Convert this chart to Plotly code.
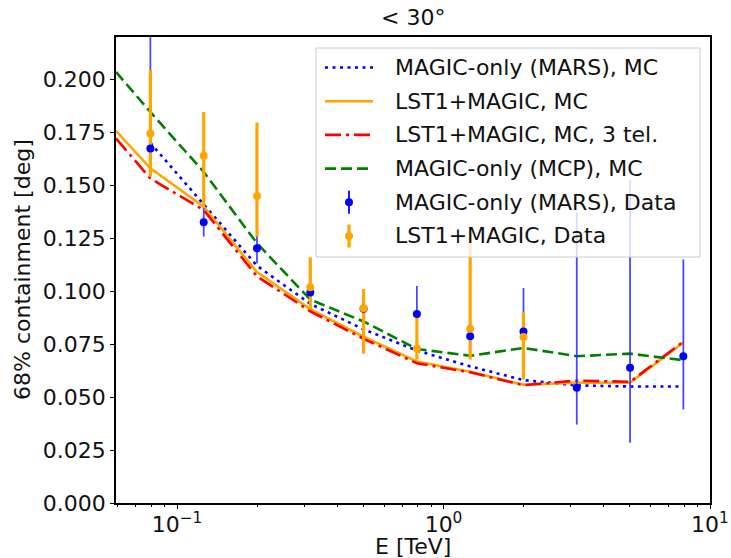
import math
import plotly.graph_objects as go

# ---------------------------------------------------------------- data
# Energy bin centres [TeV]
energy = [0.0794, 0.1259, 0.1995, 0.3162, 0.5012, 0.7943, 1.2589, 1.9953, 3.1623, 5.0119, 7.9433]
# MC curves continue to the lower edge of the energy axis
energy_mc = [0.059] + energy

# 68% containment radius from simulations [deg]
mars_mc = [None, 0.170, 0.141, 0.112, 0.094, 0.082, 0.072, 0.0645, 0.058, 0.0555, 0.055, 0.055]
lst1_magic_mc = [0.1757, 0.158, 0.1399, 0.109, 0.0915, 0.0785, 0.0668, 0.062, 0.0558, 0.0568, 0.0568, 0.0758]
lst1_magic_mc_3tel = [0.1721, 0.1532, 0.1383, 0.107, 0.0905, 0.0775, 0.066, 0.0617, 0.0556, 0.0578, 0.0572, 0.0762]
mcp_mc = [0.2035, 0.1846, 0.1563, 0.1226, 0.096, 0.0857, 0.0727, 0.0695, 0.0732, 0.0693, 0.0705, 0.0674]

# 68% containment radius measured on data [deg]
mars_data = [0.1674, 0.1325, 0.1203, 0.0994, 0.0917, 0.0892, 0.0787, 0.081, 0.0544, 0.0638, 0.0693]
mars_err_up = [0.08, 0.0067, 0.0063, 0.006, 0.006, 0.0133, 0.01, 0.0205, 0.0825, 0.0887, 0.0457]
mars_err_down = [0.012, 0.0067, 0.0071, 0.006, 0.006, 0.0133, 0.01, 0.0205, 0.0174, 0.0353, 0.0251]

lst1_energy = energy[:8]
lst1_data = [0.1745, 0.1639, 0.1449, 0.1019, 0.092, 0.0729, 0.0823, 0.0784]
lst1_err_up = [0.0301, 0.0207, 0.0347, 0.0141, 0.009, 0.0151, 0.0447, 0.0116]
lst1_err_down = [0.0205, 0.024, 0.0191, 0.0107, 0.0215, 0.0052, 0.0146, 0.0201]

labels = [
    "MAGIC-only (MARS), MC",
    "LST1+MAGIC, MC",
    "LST1+MAGIC, MC, 3 tel.",
    "MAGIC-only (MCP), MC",
    "MAGIC-only (MARS), Data",
    "LST1+MAGIC, Data",
]

# ---------------------------------------------------------------- styling
FONT = "DejaVu Sans"
FS = 22
TXT = "#111111"
BLUE, ORANGE, RED, GREEN = "#0000ff", "#ffa500", "#ff0000", "#008000"

W, H = 731, 558
ML, MR, MT, MB = 116, 21, 37, 55
PW, PH = W - ML - MR, H - MT - MB


def paper_x(px):
    return (px - ML) / PW


def paper_y(py):
    return (H - MB - py) / PH


fig = go.Figure()

line_styles = [
    (mars_mc, BLUE, "3px,4.5px", 2.6),
    (lst1_magic_mc, ORANGE, "solid", 2.6),
    (lst1_magic_mc_3tel, RED, "16px,5px,3px,5px", 2.6),
    (mcp_mc, GREEN, "11px,5px", 2.6),
]
for (vals, col, dash, lw), name in zip(line_styles, labels[:4]):
    fig.add_trace(go.Scatter(
        x=energy_mc, y=vals, mode="lines", name=name, showlegend=False,
        line=dict(color=col, width=lw, dash=dash), connectgaps=False,
    ))

# error bars first, markers on top of all bars
fig.add_trace(go.Scatter(
    x=energy, y=mars_data, mode="markers", showlegend=False, hoverinfo="skip",
    marker=dict(size=0.1, color=BLUE, opacity=0),
    error_y=dict(type="data", symmetric=False, array=mars_err_up, arrayminus=mars_err_down,
                 color="rgba(40,40,255,0.85)", thickness=1.8, width=0),
))
fig.add_trace(go.Scatter(
    x=lst1_energy, y=lst1_data, mode="markers", showlegend=False, hoverinfo="skip",
    marker=dict(size=0.1, color=ORANGE, opacity=0),
    error_y=dict(type="data", symmetric=False, array=lst1_err_up, arrayminus=lst1_err_down,
                 color=ORANGE, thickness=3.2, width=0),
))
fig.add_trace(go.Scatter(
    x=energy, y=mars_data, mode="markers", name=labels[4], showlegend=False,
    marker=dict(size=8, color=BLUE, line=dict(width=0)),
))
fig.add_trace(go.Scatter(
    x=lst1_energy, y=lst1_data, mode="markers", name=labels[5], showlegend=False,
    marker=dict(size=8, color=ORANGE, line=dict(width=0)),
))

# ---------------------------------------------------------------- legend box
shapes = [dict(
    type="rect", xref="paper", yref="paper",
    x0=paper_x(316), x1=paper_x(700), y0=paper_y(257), y1=paper_y(48),
    fillcolor="rgba(255,255,255,0.8)", line=dict(color="#cccccc", width=1), layer="above",
)]
annotations = []
row0, row_step = 67.5, 33.7
handle_x0, handle_x1, text_x = 325, 373, 393
for i, name in enumerate(labels):
    ry = paper_y(row0 + i * row_step)
    if i < 4:
        vals, col, dash, lw = line_styles[i]
        shapes.append(dict(
            type="line", xref="paper", yref="paper",
            x0=paper_x(handle_x0), x1=paper_x(handle_x1), y0=ry, y1=ry,
            line=dict(color=col, width=lw, dash=dash), layer="above",
        ))
    else:
        col = BLUE if i == 4 else ORANGE
        thick = 1.8 if i == 4 else 3.2
        cx = paper_x((handle_x0 + handle_x1) / 2)
        shapes.append(dict(
            type="line", xref="paper", yref="paper", xsizemode="pixel", ysizemode="pixel",
            xanchor=cx, yanchor=ry, x0=0, x1=0, y0=-11.5, y1=11.5,
            line=dict(color=col, width=thick), layer="above",
        ))
        shapes.append(dict(
            type="circle", xref="paper", yref="paper", xsizemode="pixel", ysizemode="pixel",
            xanchor=cx, yanchor=ry, x0=-4, x1=4, y0=-4, y1=4,
            fillcolor=col, line=dict(width=0), layer="above",
        ))
    annotations.append(dict(
        text=name, xref="paper", yref="paper", x=paper_x(text_x), y=ry,
        xanchor="left", yanchor="middle", showarrow=False,
        font=dict(family=FONT, size=FS, color=TXT),
    ))

# axis titles
annotations.append(dict(
    text="68% containment [deg]", xref="paper", yref="paper",
    x=paper_x(22), y=0.5, xanchor="center", yanchor="middle", textangle=-90,
    showarrow=False, font=dict(family=FONT, size=FS, color=TXT),
))
annotations.append(dict(
    text="E [TeV]", xref="paper", yref="paper",
    x=0.5, y=paper_y(546), xanchor="center", yanchor="middle",
    showarrow=False, font=dict(family=FONT, size=FS, color=TXT),
))
annotations.append(dict(
    text="< 30°", xref="paper", yref="paper",
    x=0.5, y=paper_y(18), xanchor="center", yanchor="middle",
    showarrow=False, font=dict(family=FONT, size=FS, color=TXT),
))

minor_x = [d * 10 ** e for e in (-2, -1, 0) for d in range(2, 10)]

fig.update_layout(
    width=W, height=H,
    margin=dict(l=ML, r=MR, t=MT, b=MB, autoexpand=False),
    paper_bgcolor="white", plot_bgcolor="white",
    font=dict(family=FONT, size=FS, color=TXT),
    shapes=shapes, annotations=annotations, showlegend=False,
    xaxis=dict(
        type="log", range=[math.log10(0.059), 1.0], automargin=False,
        tickvals=[0.1, 1, 10],
        ticktext=["10<sup>−1</sup>", "10<sup>0</sup>", "10<sup>1</sup>"],
        ticks="outside", ticklen=4, tickwidth=1.2, tickcolor="black",
        ticklabelstandoff=-3,
        minor=dict(tickvals=minor_x, ticks="outside", ticklen=2.5, tickwidth=1, tickcolor="black"),
        showgrid=False, zeroline=False,
        showline=True, mirror=True, linecolor="black", linewidth=1.5,
        tickfont=dict(family=FONT, size=FS, color=TXT),
    ),
    yaxis=dict(
        range=[0, 0.22], tick0=0, dtick=0.025, tickformat=".3f", automargin=False,
        ticks="outside", ticklen=4, tickwidth=1.2, tickcolor="black",
        showgrid=False, zeroline=False,
        showline=True, mirror=True, linecolor="black", linewidth=1.5,
        tickfont=dict(family=FONT, size=FS, color=TXT),
    ),
)

fig.write_html("out.html")
